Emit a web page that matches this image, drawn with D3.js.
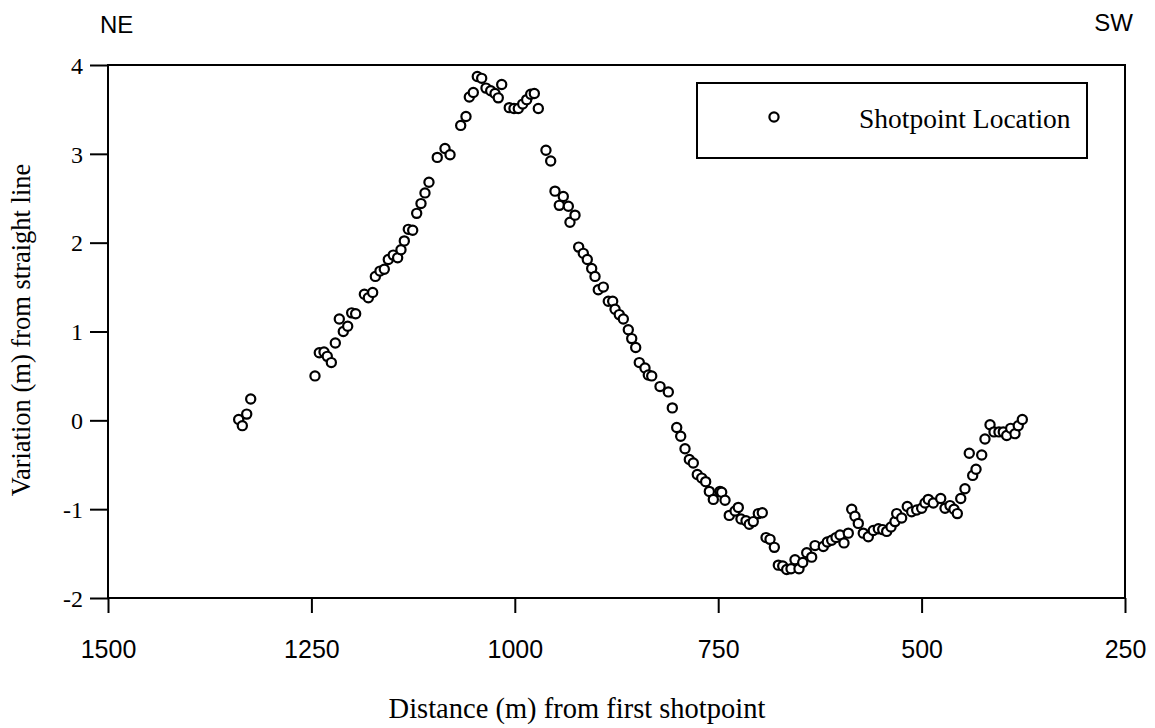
<!DOCTYPE html>
<html>
<head>
<meta charset="utf-8">
<script src="https://cdn.jsdelivr.net/npm/d3@7"></script>
<style>
  html, body { margin: 0; padding: 0; background: #fff; }
  svg { display: block; }
</style>
</head>
<body>
<svg id="chart" width="1155" height="728"></svg>
<script>
// Shotpoint offsets along the survey line: distance (m) and variation (m)
const distance = [
  1339.4, 1334.9, 1329.5, 1324.6, 1245.6, 1240.3, 1234.5, 1230.5, 1225.5, 1220.6,
  1210.8, 1205.4, 1215.7, 1200.5, 1195.6, 1184.9, 1180.0, 1174.7, 1171.4, 1165.7,
  1160.4, 1155.5, 1149.4, 1144.0, 1139.9, 1135.8, 1130.9, 1125.5, 1120.6, 1115.3,
  1110.4, 1105.5, 1095.3, 1085.8, 1079.6, 1066.5, 1060.0, 1055.9, 1051.0, 1046.1,
  1040.7, 1035.4, 1029.6, 1024.3, 1020.3, 1016.1, 1006.8, 1001.0, 995.7, 990.3,
  985.4, 980.5, 976.0, 971.1, 961.7, 955.9, 950.6, 945.3, 940.4, 934.2,
  932.2, 926.0, 921.5, 915.8, 910.9, 905.5, 901.4, 897.4, 891.2, 885.1,
  879.7, 876.8, 871.6, 866.6, 860.5, 856.3, 851.4, 847.0, 840.0, 835.9,
  831.7, 821.5, 811.3, 806.4, 801.0, 796.1, 790.8, 785.5, 780.6, 775.7,
  770.3, 765.4, 760.9, 756.0, 747.8, 745.7, 741.6, 736.4, 729.3, 725.3,
  722.0, 715.8, 711.8, 706.9, 700.7, 695.8, 691.2, 686.3, 681.0, 676.1,
  670.7, 665.8, 660.5, 655.6, 650.7, 646.1, 641.2, 635.1, 631.0, 620.8,
  615.9, 610.5, 605.2, 600.3, 595.4, 590.1, 585.9, 581.9, 577.8, 571.7,
  565.5, 559.4, 553.2, 547.8, 542.9, 537.6, 532.7, 530.6, 524.5, 517.6,
  512.2, 506.0, 499.9, 495.8, 491.8, 485.6, 476.5, 471.2, 465.1, 460.2,
  456.1, 451.9, 446.7, 441.4, 437.2, 433.1, 426.1, 422.1, 415.9, 411.0,
  404.9, 399.6, 395.4, 390.5, 385.2, 381.2, 376.2
];
const variation = [
  0.01, -0.06, 0.07, 0.24, 0.50, 0.76, 0.77, 0.72, 0.65, 0.87,
  1.00, 1.06, 1.14, 1.21, 1.20, 1.42, 1.38, 1.44, 1.62, 1.68,
  1.70, 1.81, 1.86, 1.83, 1.92, 2.02, 2.15, 2.14, 2.33, 2.44,
  2.56, 2.68, 2.96, 3.06, 2.99, 3.32, 3.42, 3.64, 3.69, 3.87,
  3.85, 3.74, 3.71, 3.68, 3.63, 3.78, 3.52, 3.51, 3.51, 3.56,
  3.61, 3.67, 3.68, 3.51, 3.04, 2.92, 2.58, 2.42, 2.52, 2.41,
  2.23, 2.31, 1.95, 1.88, 1.81, 1.71, 1.62, 1.47, 1.50, 1.34,
  1.34, 1.25, 1.19, 1.14, 1.02, 0.92, 0.82, 0.65, 0.59, 0.51,
  0.50, 0.38, 0.32, 0.14, -0.08, -0.18, -0.32, -0.44, -0.48, -0.61,
  -0.65, -0.69, -0.80, -0.89, -0.80, -0.81, -0.90, -1.07, -1.02, -0.98,
  -1.11, -1.13, -1.17, -1.14, -1.05, -1.04, -1.32, -1.34, -1.43, -1.63,
  -1.64, -1.68, -1.67, -1.57, -1.67, -1.60, -1.49, -1.54, -1.41, -1.42,
  -1.37, -1.35, -1.32, -1.29, -1.38, -1.27, -1.00, -1.08, -1.16, -1.27,
  -1.31, -1.24, -1.22, -1.23, -1.25, -1.20, -1.14, -1.05, -1.10, -0.97,
  -1.03, -1.01, -0.99, -0.93, -0.89, -0.93, -0.88, -0.99, -0.96, -1.00,
  -1.05, -0.88, -0.77, -0.37, -0.62, -0.55, -0.39, -0.21, -0.05, -0.13,
  -0.13, -0.13, -0.17, -0.09, -0.15, -0.06, 0.01
];
const xTicks = [1500, 1250, 1000, 750, 500, 250];
const yTicks = [-2, -1, 0, 1, 2, 3, 4];
const seriesName = "Shotpoint Location";

const svg = d3.select("#chart");
const plotLeft = 108, plotRight = 1125, plotTop = 65, plotBottom = 598;

const x = d3.scaleLinear().domain([1500, 250]).range([plotLeft, plotRight]);
const y = d3.scaleLinear().domain([-2, 4]).range([plotBottom, plotTop]);

const serif = "'Liberation Serif', 'Times New Roman', serif";
const sans = "'Liberation Sans', Arial, sans-serif";
// plain hyphen for negative numbers
const intFmt = d => String(d);

// Bottom axis: ticks pointing down, sans-serif labels
const gx = svg.append("g")
  .attr("transform", `translate(0,${plotBottom})`)
  .call(d3.axisBottom(x).tickValues(xTicks).tickSize(15).tickSizeOuter(0).tickFormat(intFmt));
gx.select(".domain").remove();
gx.selectAll(".tick line").attr("stroke", "#000").attr("stroke-width", 2);
gx.selectAll(".tick text")
  .attr("y", 60).attr("dy", 0)
  .attr("font-family", sans).attr("font-size", 25).attr("fill", "#000");

// Left axis: ticks pointing left, serif labels
const gy = svg.append("g")
  .attr("transform", `translate(${plotLeft},0)`)
  .call(d3.axisLeft(y).tickValues(yTicks).tickSize(18).tickSizeOuter(0).tickFormat(intFmt));
gy.select(".domain").remove();
gy.selectAll(".tick line").attr("stroke", "#000").attr("stroke-width", 2);
gy.selectAll(".tick text")
  .attr("x", -25).attr("dy", "0.34em")
  .attr("font-family", serif).attr("font-size", 24).attr("fill", "#000");

// Plot frame
svg.append("rect")
  .attr("x", plotLeft).attr("y", plotTop)
  .attr("width", plotRight - plotLeft).attr("height", plotBottom - plotTop)
  .attr("fill", "none").attr("stroke", "#000").attr("stroke-width", 2);

// Shotpoints
const pts = distance.map((d, i) => ({ d, v: variation[i] }));
svg.append("g")
  .selectAll("circle")
  .data(pts)
  .join("circle")
  .attr("cx", p => x(p.d))
  .attr("cy", p => y(p.v))
  .attr("r", 4.6)
  .attr("fill", "#fff")
  .attr("stroke", "#000")
  .attr("stroke-width", 2.2);

// Legend
const lg = svg.append("g");
lg.append("rect")
  .attr("x", 697).attr("y", 83).attr("width", 390).attr("height", 75)
  .attr("fill", "#fff").attr("stroke", "#000").attr("stroke-width", 2);
lg.append("circle")
  .attr("cx", 774).attr("cy", 117).attr("r", 4.6)
  .attr("fill", "#fff").attr("stroke", "#000").attr("stroke-width", 2.2);
lg.append("text")
  .attr("x", 859).attr("y", 128)
  .attr("font-family", serif).attr("font-size", 27.5).attr("fill", "#000")
  .text(seriesName);

// Axis titles
svg.append("text")
  .attr("x", 577).attr("y", 718)
  .attr("text-anchor", "middle")
  .attr("font-family", serif).attr("font-size", 28.5).attr("fill", "#000")
  .text("Distance (m) from first shotpoint");

svg.append("text")
  .attr("transform", "translate(30,330) rotate(-90)")
  .attr("text-anchor", "middle")
  .attr("font-family", serif).attr("font-size", 26.5).attr("fill", "#000")
  .text("Variation (m) from straight line");

// Direction labels
svg.append("text")
  .attr("x", 100).attr("y", 33)
  .attr("font-family", sans).attr("font-size", 24).attr("fill", "#000")
  .text("NE");
svg.append("text")
  .attr("x", 1133).attr("y", 31)
  .attr("text-anchor", "end")
  .attr("font-family", sans).attr("font-size", 24).attr("fill", "#000")
  .text("SW");
</script>
</body>
</html>
